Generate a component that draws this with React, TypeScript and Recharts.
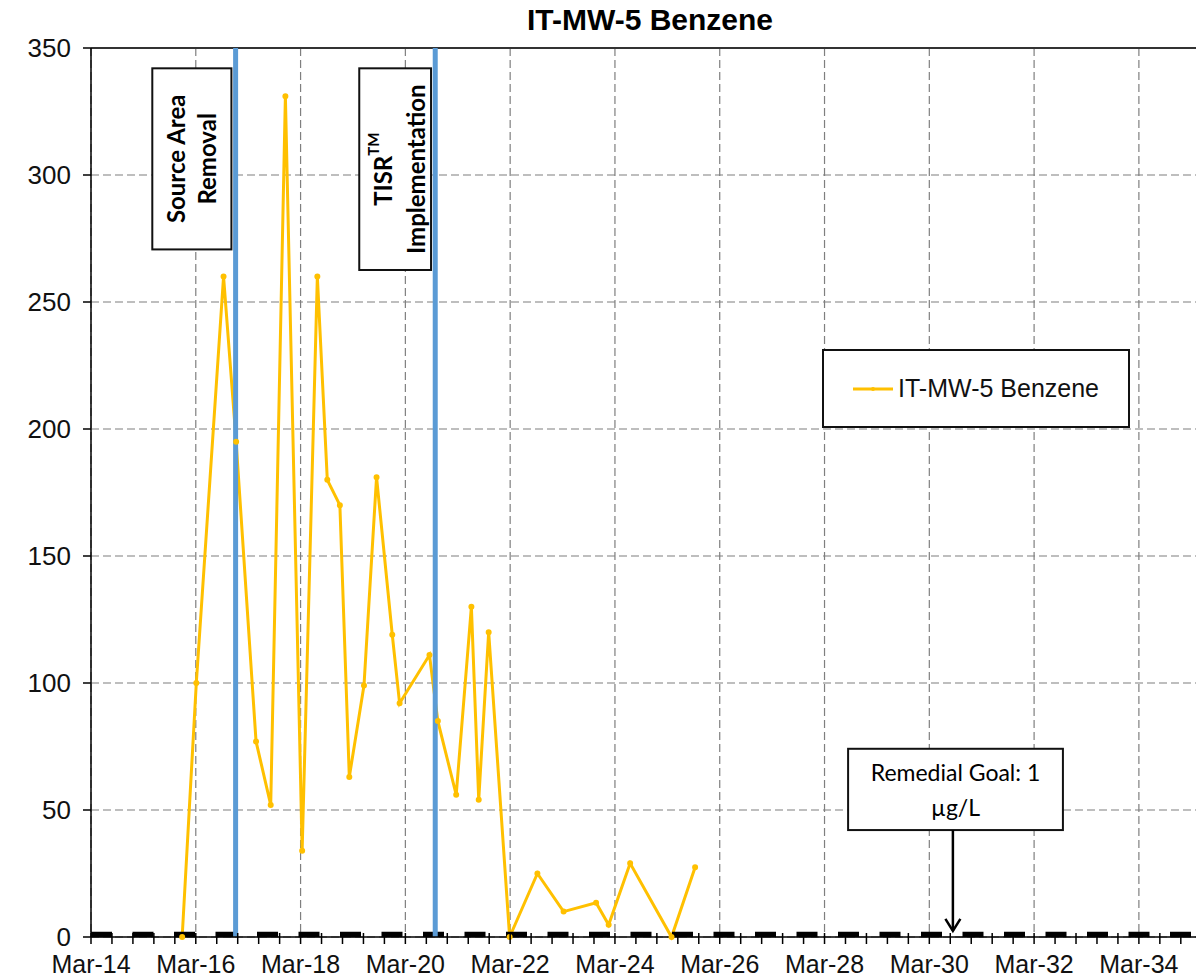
import { LineChart, Line, XAxis, YAxis, CartesianGrid, ReferenceLine, ReferenceArea, Legend } from 'recharts'

// sample dates as decimal years
const sampleYears = [
  2015.9, 2016.17, 2016.69, 2016.93, 2017.31, 2017.59, 2017.87, 2018.19, 2018.48, 2018.67,
  2018.91, 2019.09, 2019.37, 2019.61, 2019.91, 2020.05, 2020.62, 2020.78, 2021.13, 2021.42,
  2021.56, 2021.75, 2022.15, 2022.68, 2023.18, 2023.8, 2024.04, 2024.45, 2025.24, 2025.69,
]
const benzene = [
  0, 100, 260, 195, 77, 52, 331, 34, 260, 180,
  170, 63, 99, 181, 119, 92, 111, 85, 56, 130,
  54, 120, 0, 25, 10, 13.5, 4.8, 29, 0, 27.5,
]

const yTicks = [0, 50, 100, 150, 200, 250, 300, 350]
const xTickYears = [2014.16, 2016.16, 2018.16, 2020.16, 2022.16, 2024.16, 2026.16, 2028.16, 2030.16, 2032.16, 2034.16]
const xTickLabels = ['Mar-14', 'Mar-16', 'Mar-18', 'Mar-20', 'Mar-22', 'Mar-24', 'Mar-26', 'Mar-28', 'Mar-30', 'Mar-32', 'Mar-34']
const xDomain = [2014.16, 2035.25]

const sourceRemovalYear = 2016.92
const tisrYear = 2020.73
const remedialGoal = 1
const goalArrowYear = 2030.61

const data = sampleYears.map((year, i) => ({ year, benzene: benzene[i] }))

// minor ticks: 5 per two-year major step
const minorTicks: number[] = []
xTickYears.forEach((t) => {
  for (let k = 0; k < 5; k++) {
    const v = +(t + k * 0.4).toFixed(2)
    if (v <= xDomain[1]) minorTicks.push(k === 0 ? t : v)
  }
})

const GOLD = '#FFC000'
const BLUE = '#5B9BD5'
const ARIAL = '"Liberation Sans", Arial, sans-serif'
const CALIBRI = 'Lato, "Open Sans", sans-serif'

function XTick({ x, y, payload }: any) {
  const i = xTickYears.indexOf(payload.value)
  return (
    <g>
      <line x1={x} x2={x} y1={y - 4} y2={y + 7} stroke="#000" strokeWidth={1.5} />
      {i >= 0 && (
        <text x={x} y={y + 27} dy="0.35em" textAnchor="middle" fontSize={25} fontFamily={ARIAL} fill="#111">
          {xTickLabels[i]}
        </text>
      )}
    </g>
  )
}

function VerticalNote({ x, y, width, height, lines, offsets }: any) {
  const cx = x + width / 2
  const cy = y + height / 2
  return (
    <g>
      <rect x={x} y={y} width={width} height={height} fill="#fff" stroke="#111" strokeWidth={2} />
      <g transform={`rotate(-90, ${cx}, ${cy})`}>
        {lines.map((l: any, i: number) => (
          <text key={i} x={cx} y={cy + offsets[i]} dominantBaseline="central" textAnchor="middle"
            fontSize={24} fontWeight={700} fontFamily={CALIBRI} fill="#000">
            {l}
          </text>
        ))}
      </g>
    </g>
  )
}

function GoalNote({ x, y, width, height }: any) {
  const cx = x + width / 2
  return (
    <g>
      <rect x={x} y={y} width={width} height={height} fill="#fff" stroke="#111" strokeWidth={2} />
      <text x={cx} y={y + 23} dominantBaseline="central" textAnchor="middle" fontSize={23} fontFamily={CALIBRI} fill="#000">
        Remedial Goal: 1
      </text>
      <text x={cx} y={y + 58} dominantBaseline="central" textAnchor="middle" fontSize={23} fontFamily={CALIBRI} fill="#000">
        µg/L
      </text>
    </g>
  )
}

function Arrow({ x1, y1, x2, y2 }: any) {
  return (
    <g stroke="#000" strokeWidth={2.5} fill="none">
      <line x1={x1} y1={y1} x2={x2} y2={y2} />
      <polyline points={`${x2 - 7.5},${y2 - 12} ${x2},${y2} ${x2 + 7.5},${y2 - 12}`} />
    </g>
  )
}

function LegendBox() {
  return (
    <div
      style={{
        width: 308,
        height: 79,
        boxSizing: 'border-box',
        border: '2px solid #111',
        background: '#fff',
        display: 'flex',
        alignItems: 'center',
        paddingLeft: 29,
      }}
    >
      <svg width={40} height={10}>
        <line x1={0} x2={40} y1={5} y2={5} stroke={GOLD} strokeWidth={3} />
        <circle cx={20} cy={5} r={2} fill={GOLD} />
      </svg>
      <span style={{ marginLeft: 5, fontSize: 25, fontFamily: ARIAL, color: '#111' }}>IT-MW-5 Benzene</span>
    </div>
  )
}

export default function App() {
  return (
    <div style={{ position: 'absolute', left: 0, top: 0, width: 1196, height: 978, background: '#fff', overflow: 'hidden' }}>
      <div
        style={{
          position: 'absolute',
          left: 450,
          width: 400,
          top: 3,
          textAlign: 'center',
          fontFamily: ARIAL,
          fontWeight: 700,
          fontSize: 30,
          color: '#000',
        }}
      >
        IT-MW-5 Benzene
      </div>
      <LineChart width={1196} height={978} data={data} margin={{ top: 48, right: 0, bottom: 0, left: 0 }}>
        <CartesianGrid stroke="#7f7f7f" strokeDasharray="8 4" strokeWidth={1.2} verticalValues={xTickYears} />
        <XAxis
          dataKey="year"
          type="number"
          domain={xDomain}
          ticks={minorTicks}
          interval={0}
          allowDataOverflow
          height={41}
          tickSize={0}
          tickMargin={0}
          tickLine={false}
          tick={<XTick />}
          axisLine={{ stroke: '#000', strokeWidth: 1.5 }}
        />
        <YAxis
          type="number"
          domain={[0, 350]}
          ticks={yTicks}
          width={91}
          tickSize={8}
          tickMargin={12}
          tickLine={{ stroke: '#000', strokeWidth: 1.5 }}
          axisLine={{ stroke: '#000', strokeWidth: 1.5 }}
          tick={{ fontSize: 26, fill: '#111', fontFamily: ARIAL }}
        />
        <Legend verticalAlign="middle" layout="horizontal" wrapperStyle={{ left: 822, top: 349, width: 308, height: 79 }} content={() => <LegendBox />} />
        <ReferenceLine y={350} stroke="#333" strokeWidth={2} />
        <Line
          type="linear"
          dataKey="benzene"
          name="IT-MW-5 Benzene"
          stroke={GOLD}
          strokeWidth={3}
          dot={{ r: 1.5, fill: GOLD, stroke: GOLD }}
          isAnimationActive={false}
        />
        <ReferenceLine y={remedialGoal} stroke="#000" strokeWidth={5.5} strokeDasharray="21 20.5" />
        <ReferenceLine x={sourceRemovalYear} stroke={BLUE} strokeWidth={5} />
        <ReferenceLine x={tisrYear} stroke={BLUE} strokeWidth={5} />
        <ReferenceArea
          x1={2015.33}
          x2={2016.84}
          y1={270.7}
          y2={342}
          ifOverflow="visible"
          shape={(p: any) => <VerticalNote {...p} lines={['Source Area', 'Removal']} offsets={[-16, 15]} />}
        />
        <ReferenceArea
          x1={2019.28}
          x2={2020.65}
          y1={262.6}
          y2={342}
          ifOverflow="visible"
          shape={(p: any) => (
            <VerticalNote
              {...p}
              lines={[
                <>
                  TISR
                  <tspan fontSize={15} dy={-9}>TM</tspan>
                </>,
                'Implementation',
              ]}
              offsets={[-13, 20]}
            />
          )}
        />
        <ReferenceArea x1={2028.61} x2={2032.71} y1={42.1} y2={74.1} ifOverflow="visible" shape={(p: any) => <GoalNote {...p} />} />
        <ReferenceLine
          segment={[{ x: goalArrowYear, y: 42.1 }, { x: goalArrowYear, y: 2.4 }]}
          ifOverflow="visible"
          shape={(p: any) => <Arrow {...p} />}
        />
      </LineChart>
    </div>
  )
}
